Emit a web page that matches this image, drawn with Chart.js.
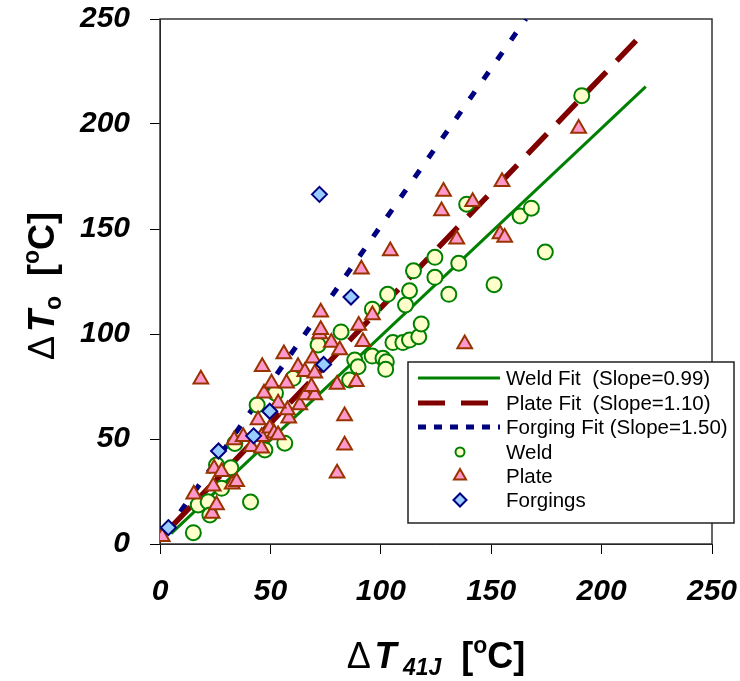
<!DOCTYPE html>
<html>
<head>
<meta charset="utf-8">
<title>ΔTo vs ΔT41J</title>
<script src="https://cdn.jsdelivr.net/npm/chart.js@4.4.1/dist/chart.umd.min.js"></script>
<style>
  body { margin: 0; background: #fff; }
  #wrap { width: 740px; height: 681px; }
</style>
</head>
<body>
<div id="wrap"><canvas id="chart" width="740" height="681"></canvas></div>
<script>
// measured shifts, [°C]
const weldX = [15.1, 41, 17.3, 21.8, 22.6, 25.6, 32.1, 27.9, 33.9, 47.5, 56.5, 44, 52.3, 60.3, 71.6, 82, 88.2, 89.7,
  96.1, 101, 102.5, 102.2, 85.9, 105.5, 110, 113, 117.2, 118.3, 96.2, 103.1, 111.2, 113, 114.8, 124.5, 124.5, 130.8,
  135.3, 138.9, 151.3, 163.1, 168.2, 174.5, 191];
const weldY = [5.4, 20, 18.6, 20.1, 13.8, 37.6, 36.3, 26.5, 47.9, 44.8, 48, 66.2, 71.8, 78.9, 94.8, 101, 87.6, 84.4,
  89.5, 88.4, 86.8, 83.2, 78.1, 95.9, 95.9, 97.1, 98.7, 104.8, 111.8, 118.9, 113.8, 120.6, 130.1, 136.5, 127, 118.9,
  133.7, 161.8, 123.5, 156.2, 159.9, 139, 213.5];

const plateX = [1, 15.3, 18.5, 23.6, 25.6, 24.1, 24.5, 27.9, 32.7, 34.7, 33.6, 37.7, 41.4, 46, 46, 44.4, 49.7, 51.7,
  53.5, 58.3, 57.7, 53.5, 63.3, 47.1, 50.5, 57.3, 65.9, 70.1, 68.6, 46.3, 62.5, 65.6, 70.1, 56.1, 77.6, 72.3, 81.4,
  69.3, 80.2, 88.9, 83.6, 83.6, 80.2, 91.9, 72.8, 72.8, 96.2, 90, 91.2, 104.3, 128.4, 127.5, 141.6, 134.4, 154,
  156.1, 154.9, 189.6, 138];
const plateY = [3.5, 23.7, 78.4, 14.5, 18.6, 27.5, 36, 34.4, 28.4, 29.7, 49.5, 51.1, 46.3, 45.6, 51.1, 59, 55.1, 52.7,
  51.9, 59.9, 63.8, 67, 66.2, 71.8, 76.5, 76.5, 71, 71, 74.9, 84.4, 84.4, 82, 81.3, 90.5, 96, 100, 92.4,
  88.4, 75.9, 77.3, 61, 47, 33.7, 96.3, 110.4, 102, 109, 104, 130.8, 139.5, 167.8, 158.6, 163, 145.1, 147.6,
  146, 172.5, 197.9, 95.2];

const forgingX = [3.8, 26.5, 42.4, 49.7, 74.1, 86.5, 72.2];
const forgingY = [7.8, 44.3, 51.5, 63.2, 85.5, 117.6, 166.5];

// fitted lines: weld, plate, forging
const fitLabels = ['Weld Fit  (Slope=0.99)', 'Plate Fit  (Slope=1.10)', 'Forging Fit (Slope=1.50)'];
const fitSlopes = [0.99, 1.10, 1.50];
const fitIntercepts = [0, 2.5, 1.5];
const fitStartX = [5, 5, 3];
const fitEndX = [220, 216, 165.7];

const axisTicks = [0, 50, 100, 150, 200, 250];

const FONT = "'Liberation Sans', Arial, sans-serif";

const toPoints = (xs, ys) => xs.map((x, i) => ({ x: x, y: ys[i] }));
const fitLine = i => [fitStartX[i], fitEndX[i]].map(x => ({ x: x, y: fitSlopes[i] * x + fitIntercepts[i] }));

const fitStyles = [
  { color: '#008000', width: 3, dash: [], legendDash: [] },
  { color: '#800000', width: 5.5, dash: [28, 15], legendDash: [27, 16] },
  { color: '#000080', width: 5, dash: [9, 15], legendDash: [8, 8] },
];

const fitSets = fitLabels.map((label, i) => ({
  label: label,
  data: fitLine(i),
  showLine: true,
  pointRadius: 0,
  borderColor: fitStyles[i].color,
  borderWidth: fitStyles[i].width,
  borderDash: fitStyles[i].dash,
  borderCapStyle: 'butt',
  fill: false,
  order: 4 + i,
}));

const markerSets = [
  { label: 'Weld', data: toPoints(weldX, weldY), pointStyle: 'circle', pointRadius: 7.5,
    backgroundColor: '#FFFFCC', borderColor: '#008000', pointBorderWidth: 2, order: 3, legendRadius: 4.5 },
  { label: 'Plate', data: toPoints(plateX, plateY), pointStyle: 'triangle', pointRadius: 8.5,
    backgroundColor: '#FF99CC', borderColor: '#993300', pointBorderWidth: 2, order: 2, legendRadius: 7 },
  { label: 'Forgings', data: toPoints(forgingX, forgingY), pointStyle: 'rectRot', pointRadius: 7.5,
    backgroundColor: '#99CCFF', borderColor: '#000080', pointBorderWidth: 2, order: 1, legendRadius: 6.5 },
];

// title built from pieces so the sub/superscripts can be drawn
const drawPieces = (ctx, pieces) => {
  const fontOf = p => `${p.italic ? 'italic ' : ''}${p.bold ? 'bold ' : ''}${p.size}px ${FONT}`;
  let total = 0;
  pieces.forEach(p => { ctx.font = fontOf(p); p.w = ctx.measureText(p.t).width; total += p.w; });
  let x = -total / 2;
  ctx.fillStyle = '#000';
  ctx.textAlign = 'left';
  ctx.textBaseline = 'alphabetic';
  pieces.forEach(p => {
    ctx.font = fontOf(p);
    ctx.fillText(p.t, x, p.dy || 0);
    x += p.w;
  });
};

const xTitle = [
  { t: 'Δ', size: 36 }, { t: ' ', size: 14 },
  { t: 'T', size: 36, bold: true, italic: true },
  { t: ' 41J', size: 23, bold: true, italic: true, dy: 7 },
  { t: '  [', size: 36, bold: true },
  { t: 'o', size: 23, bold: true, dy: -15 },
  { t: 'C]', size: 36, bold: true },
];
const yTitle = [
  { t: 'Δ', size: 36 }, { t: ' ', size: 14 },
  { t: 'T', size: 36, bold: true, italic: true },
  { t: 'o', size: 23, bold: true, dy: 7 },
  { t: '  [', size: 36, bold: true },
  { t: 'o', size: 23, bold: true, dy: -15 },
  { t: 'C]', size: 36, bold: true },
];

const framePlugin = {
  id: 'frame',
  beforeDatasetsDraw(chart) {
    const { ctx, chartArea: a } = chart;
    ctx.save();
    ctx.strokeStyle = '#333';
    ctx.lineWidth = 1.5;
    ctx.strokeRect(a.left, a.top, a.right - a.left, a.bottom - a.top);
    ctx.restore();
  },
  afterDraw(chart) {
    const ctx = chart.ctx;

    // axis titles
    ctx.save();
    ctx.translate(436, 668);
    drawPieces(ctx, xTitle);
    ctx.restore();

    ctx.save();
    ctx.translate(54, 286);
    ctx.rotate(-Math.PI / 2);
    drawPieces(ctx, yTitle);
    ctx.restore();

    // legend box
    const box = { x: 408, y: 362, w: 326, h: 161 };
    const rowY = [378, 403, 427, 452, 476, 500];
    ctx.save();
    ctx.fillStyle = '#fff';
    ctx.fillRect(box.x, box.y, box.w, box.h);
    ctx.strokeStyle = '#222';
    ctx.lineWidth = 1.5;
    ctx.strokeRect(box.x, box.y, box.w, box.h);

    ctx.font = `20.5px ${FONT}`;
    ctx.textBaseline = 'middle';
    ctx.textAlign = 'left';

    fitSets.forEach((ds, i) => {
      const y = rowY[i];
      ctx.beginPath();
      ctx.setLineDash(fitStyles[i].legendDash);
      ctx.lineCap = 'butt';
      ctx.strokeStyle = ds.borderColor;
      ctx.lineWidth = i === 0 ? 3 : 5;
      ctx.moveTo(418, y);
      ctx.lineTo(500, y);
      ctx.stroke();
      ctx.setLineDash([]);
      ctx.fillStyle = '#000';
      ctx.fillText(ds.label, 506, y + 1);
    });

    markerSets.forEach((ds, i) => {
      const y = rowY[3 + i];
      ctx.fillStyle = ds.backgroundColor;
      ctx.strokeStyle = ds.borderColor;
      ctx.lineWidth = 2;
      Chart.helpers.drawPoint(ctx, { pointStyle: ds.pointStyle, radius: ds.legendRadius, rotation: 0, borderWidth: 2 }, 460, y);
      ctx.fillStyle = '#000';
      ctx.fillText(ds.label, 506, y + 1);
    });
    ctx.restore();
  }
};

const tickFont = { family: FONT, size: 30, weight: 'bold', style: 'italic' };

// fixed axis sizes, no extra room for the end labels
const fixSize = (scale, prop, size) => {
  scale[prop] = size;
  scale.paddingTop = 0;
  scale.paddingBottom = 0;
  scale.paddingLeft = 0;
  scale.paddingRight = 0;
};

const axisOpts = (extra) => Object.assign({
  type: 'linear',
  min: 0,
  max: 250,
  afterBuildTicks: scale => { scale.ticks = axisTicks.map(v => ({ value: v })); },
  ticks: { color: '#000', font: tickFont },
  grid: { drawOnChartArea: false, drawTicks: true, tickLength: 10, color: '#000', tickWidth: 1 },
  border: { display: true, color: '#000', width: 1 },
  title: { display: false },
}, extra);

const ctx = document.getElementById('chart');
const myChart = new Chart(ctx, {
  type: 'scatter',
  data: { datasets: [...markerSets, ...fitSets] },
  options: {
    responsive: false,
    animation: false,
    events: [],
    layout: { autoPadding: false, padding: { top: 19, right: 28, left: 0, bottom: 0 } },
    plugins: { legend: { display: false }, tooltip: { enabled: false } },
    scales: {
      x: axisOpts({
        position: 'bottom',
        ticks: { color: '#000', font: tickFont, padding: 20, maxRotation: 0 },
        afterFit: scale => fixSize(scale, 'height', 137),
      }),
      y: axisOpts({
        position: 'left',
        ticks: { color: '#000', font: tickFont, padding: 20 },
        afterFit: scale => fixSize(scale, 'width', 160),
      }),
    },
  },
  plugins: [framePlugin],
});
</script>
</body>
</html>
